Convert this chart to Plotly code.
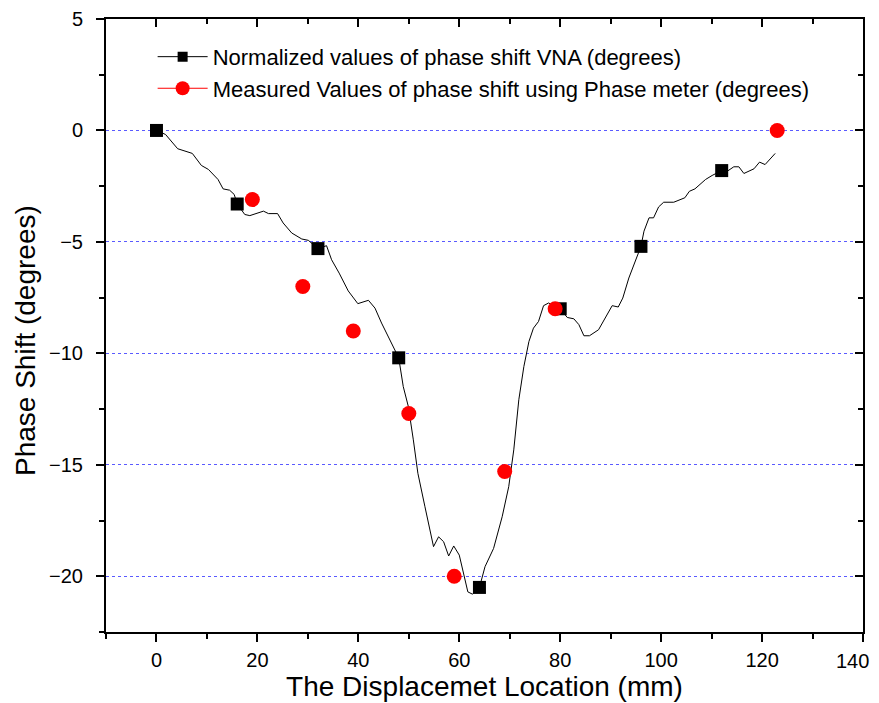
import plotly.graph_objects as go

# VNA normalized phase shift curve (degrees)
vna_x = [0, 1.8, 4.2, 6.0, 7.1, 8.9, 10.3, 12.2, 13.2, 14.5, 15.4, 16, 17.5, 18.5, 19.8, 21.2, 22.2, 24.0, 25.1,
         26.8, 28.8, 30.1, 32, 33.7, 34.7, 36.2, 38.0, 39.9, 42.0, 43.3, 44.6, 47.0, 48, 48.9, 49.9, 50.9, 51.8,
         53.2, 54.9, 55.9, 56.9, 57.9, 58.9, 60.0, 60.9, 61.7, 62.6, 64, 65.1, 66.8, 68.5, 69.8, 70.8, 71.8, 72.8,
         73.8, 74.7, 75.7, 76.7, 77.7, 80, 81.4, 82.7, 83.7, 84.7, 85.8, 87.6, 89.0, 90.3, 91.5, 92.4, 93.6,
         94.8, 96, 96.6, 97.6, 98.5, 99.5, 100.5, 102.5, 104.7, 105.6, 106.7, 108.8, 110.1, 112, 113.1, 114.4,
         115.4, 116.4, 118.4, 119.5, 120.6, 121.7, 122.6]
vna_y = [0, -0.18, -0.82, -0.97, -1.03, -1.57, -1.75, -2.2, -2.62, -2.68, -2.87, -3.3, -3.77, -3.82, -3.74, -3.62,
         -3.73, -3.73, -4.15, -4.6, -4.87, -4.93, -5.3, -5.17, -5.8, -6.4, -7.2, -7.77, -7.62, -7.97, -8.64,
         -9.76, -10.2, -11.49, -12.38, -13.88, -15.38, -16.88, -18.67, -18.23, -18.45, -19.09, -18.64, -19.05,
         -19.87, -20.7, -20.8, -20.5, -19.57, -18.75, -17.33, -15.98, -14.33, -12.08, -10.59, -9.47, -8.87,
         -8.57, -7.86, -7.74, -8.0, -8.39, -8.45, -8.71, -9.21, -9.21, -8.94, -8.41, -7.86, -7.92, -7.52, -6.62,
         -5.94, -5.2, -4.52, -3.92, -3.92, -3.43, -3.22, -3.22, -3.02, -2.73, -2.62, -2.2, -2.02, -1.8, -1.83,
         -1.63, -1.63, -1.93, -1.72, -1.42, -1.53, -1.27, -1.03]

# Symbol positions on the VNA curve
sym_x = [0, 16, 32, 48, 64, 80, 96, 112]
sym_y = [0, -3.3, -5.3, -10.2, -20.5, -8.0, -5.2, -1.8]

# Phase meter measurements
meas_x = [19, 29, 39, 50, 59, 69, 79, 123]
meas_y = [-3.1, -7.0, -9.0, -12.7, -20.0, -15.3, -8.0, 0.0]

# x tick labels (the last one sits at the right edge and is drawn separately)
x_tickvals = [0, 20, 40, 60, 80, 100, 120, 140]
x_ticktext = ["0", "20", "40", "60", "80", "100", "120", ""]
x_last_label = "140"

name_vna = "Normalized values of phase shift VNA (degrees)"
name_meas = "Measured Values of phase shift using Phase meter (degrees)"

FONT = "Liberation Sans, Arial, sans-serif"

fig = go.Figure()
fig.add_trace(go.Scatter(x=vna_x, y=vna_y, mode="lines", line=dict(color="black", width=1),
                         showlegend=False, hoverinfo="skip"))
fig.add_trace(go.Scatter(x=sym_x, y=sym_y, mode="markers",
                         marker=dict(symbol="square", size=13, color="black"), showlegend=False))
fig.add_trace(go.Scatter(x=meas_x, y=meas_y, mode="markers", showlegend=False,
                         marker=dict(symbol="circle", size=15, color="#ff0000")))
# legend entries
fig.add_trace(go.Scatter(x=[None], y=[None], mode="lines+markers", name=name_vna,
                         line=dict(color="black", width=1),
                         marker=dict(symbol="square", size=10, color="black")))
fig.add_trace(go.Scatter(x=[None], y=[None], mode="lines+markers", name=name_meas,
                         line=dict(color="#ff0000", width=1),
                         marker=dict(symbol="circle", size=14, color="#ff0000")))
fig.add_trace(go.Scatter(x=[None], y=[None], xaxis="x2", yaxis="y2", showlegend=False))

axis_common = dict(showline=True, linecolor="black", linewidth=2, zeroline=False, automargin=False,
                   ticks="outside", ticklen=8, tickwidth=2, tickcolor="black",
                   tickfont=dict(family=FONT, size=20, color="black"))

fig.update_layout(
    width=871, height=695,
    margin=dict(l=98, r=16, t=11, b=71),
    plot_bgcolor="white", paper_bgcolor="white",
    font=dict(family=FONT, color="black"),
    xaxis=dict(range=[-10, 140], tickmode="array", tickvals=x_tickvals, ticktext=x_ticktext, showgrid=False,
               minor=dict(dtick=10, tick0=0, ticks="outside", ticklen=5, tickwidth=2, tickcolor="black"),
               title=dict(text="The Displacemet Location (mm)", font=dict(family=FONT, size=28), standoff=2),
               ticklabelstandoff=1, ticklabeloverflow="allow",
               **axis_common),
    yaxis=dict(range=[-22.5, 5], tick0=0, dtick=5, showgrid=True, gridcolor="#5a5aff", gridwidth=1,
               griddash="dot",
               minor=dict(dtick=2.5, ticks="outside", ticklen=5, tickwidth=2, tickcolor="black", showgrid=False),
               ticklabelstandoff=9, ticklabeloverflow="allow",
               **axis_common),
    xaxis2=dict(overlaying="x", side="top", range=[-10, 140], tick0=0, dtick=20, showgrid=False,
                showline=True, linecolor="black", linewidth=2, zeroline=False, automargin=False,
                ticks="inside", ticklen=8, tickwidth=2, tickcolor="black", showticklabels=False,
                minor=dict(dtick=10, ticks="inside", ticklen=5, tickwidth=2, tickcolor="black")),
    yaxis2=dict(overlaying="y", side="right", range=[-22.5, 5], tick0=0, dtick=5, showgrid=False,
                showline=True, linecolor="black", linewidth=2, zeroline=False, automargin=False,
                ticks="inside", ticklen=8, tickwidth=2, tickcolor="black", showticklabels=False,
                minor=dict(dtick=2.5, ticks="inside", ticklen=5, tickwidth=2, tickcolor="black")),
    legend=dict(x=0.0616, y=0.9725, xanchor="left", yanchor="top", bgcolor="rgba(0,0,0,0)",
                font=dict(family=FONT, size=22, color="black"), itemwidth=50, tracegroupgap=0),
    showlegend=True,
    annotations=[
        dict(text="Phase Shift (degrees)", textangle=-90, xref="paper", yref="paper",
             x=-0.107, y=0.4747, xanchor="center", yanchor="middle", showarrow=False,
             font=dict(family=FONT, size=28, color="black")),
        dict(text=x_last_label, xref="paper", yref="paper", x=1.0092, y=-0.0277,
             xanchor="right", yanchor="top", showarrow=False, borderpad=0,
             font=dict(family=FONT, size=20, color="black")),
    ],
)

fig.write_html("out.html")
